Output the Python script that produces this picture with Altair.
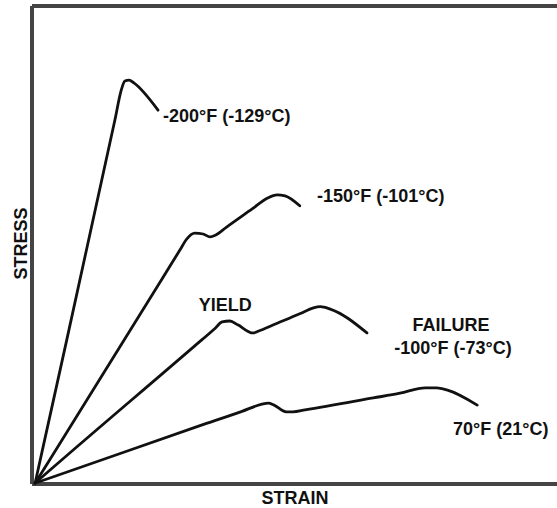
import altair as alt
import pandas as pd

# ---- curve data (strain, stress in arbitrary 0-100 units) ----
strain_m200 = [0.6, 2.0, 15.8, 17.0, 17.7, 18.5, 19.4, 24.0]
stress_m200 = [0.2, 7.2, 76.2, 82.4, 84.3, 84.5, 83.9, 78.2]

strain_m150 = [0.6, 3.0, 25.0, 28.2, 29.5, 31.0, 32.6, 33.9, 35.0, 37.0, 42.0, 44.8, 46.7, 48.2, 51.0]
stress_m150 = [0.2, 4.4, 43.3, 49.0, 51.3, 52.5, 52.3, 51.7, 52.1, 53.7, 57.6, 59.8, 60.5, 60.3, 58.2]

strain_m100 = [0.6, 3.0, 31.0, 34.9, 36.2, 37.7, 39.2, 42.1, 43.2, 46.0, 51.0, 53.5, 54.9, 56.8, 63.8]
stress_m100 = [0.2, 2.5, 28.9, 32.6, 33.9, 34.1, 33.3, 31.6, 32.0, 33.3, 35.6, 36.8, 37.1, 36.6, 31.6]

strain_p70 = [0.6, 3.0, 32.0, 40.0, 43.8, 45.0, 46.1, 48.4, 49.7, 52.0, 65.0, 70.1, 74.9, 77.1, 79.0, 84.8]
stress_p70 = [0.2, 1.1, 12.2, 15.2, 16.7, 16.9, 16.5, 15.1, 15.1, 15.5, 18.0, 19.0, 20.1, 20.1, 19.7, 16.5]

# ---- labels ----
label_text = ["-200°F (-129°C)", "-150°F (-101°C)", "YIELD", "FAILURE",
              "-100°F (-73°C)", "70°F (21°C)"]
label_strain = [24.95, 54.3, 36.8, 79.8, 80.2, 80.2]
label_stress = [76.8, 60.0, 37.2, 33.1, 28.2, 11.3]
label_align = ["left", "left", "center", "center", "center", "left"]

rows = []
for name, xs, ys in [("-200", strain_m200, stress_m200),
                     ("-150", strain_m150, stress_m150),
                     ("-100", strain_m100, stress_m100),
                     ("70", strain_p70, stress_p70)]:
    for i, (x, y) in enumerate(zip(xs, ys)):
        rows.append({"series": name, "strain": x, "stress": y, "i": i})
curves = pd.DataFrame(rows)

labels = pd.DataFrame({"text": label_text, "strain": label_strain,
                       "stress": label_stress, "align": label_align})

W, H = 525, 478
FONT = "Liberation Sans"

xscale = alt.Scale(domain=[0, 100], nice=False, zero=False)
yscale = alt.Scale(domain=[0, 100], nice=False, zero=False)

xenc = alt.X("strain:Q", scale=xscale,
             axis=alt.Axis(title="STRAIN", domain=False, ticks=False, labels=False,
                           grid=False, titleFont=FONT, titleFontSize=18,
                           titleFontWeight="bold", titleColor="#111",
                           titleY=14, titleBaseline="middle"))
yenc = alt.Y("stress:Q", scale=yscale,
             axis=alt.Axis(title="STRESS", domain=False, ticks=False, labels=False,
                           grid=False, titleFont=FONT, titleFontSize=18,
                           titleFontWeight="bold", titleColor="#111",
                           titleAngle=-90, titleX=-11, titleY=237,
                           titleAlign="center", titleBaseline="middle"))

lines = alt.Chart(curves).mark_line(
    color="#111", strokeWidth=2.8, interpolate="monotone", strokeCap="round",
    strokeJoin="round"
).encode(x=xenc, y=yenc, detail="series:N", order="i:Q")

def text_layer(align):
    return alt.Chart(labels).transform_filter(
        alt.datum.align == align
    ).mark_text(
        align=align, baseline="middle", font=FONT, fontSize=18,
        fontWeight="bold", color="#111"
    ).encode(x=alt.X("strain:Q", scale=xscale), y=alt.Y("stress:Q", scale=yscale),
             text="text:N")

frame_color = "#444"
top = alt.Chart(curves).mark_rule(color=frame_color, strokeWidth=2.5).encode(
    x=alt.value(0), x2=alt.value(W), y=alt.value(0))
left = alt.Chart(curves).mark_rule(color=frame_color, strokeWidth=2.5).encode(
    x=alt.value(0), y=alt.value(0), y2=alt.value(H))
bottom = alt.Chart(curves).mark_rule(color=frame_color, strokeWidth=2.5).encode(
    x=alt.value(0), x2=alt.value(W), y=alt.value(H))

chart = alt.layer(
    top, left, bottom, lines, text_layer("left"), text_layer("center")
).properties(
    width=W, height=H,
    padding={"left": 32, "top": 6, "right": 0, "bottom": 24},
    autosize=alt.AutoSizeParams(type="none"),
    background="white",
).configure_view(stroke=None)

chart.save("out.html", embed_options={"renderer": "svg", "actions": False})
